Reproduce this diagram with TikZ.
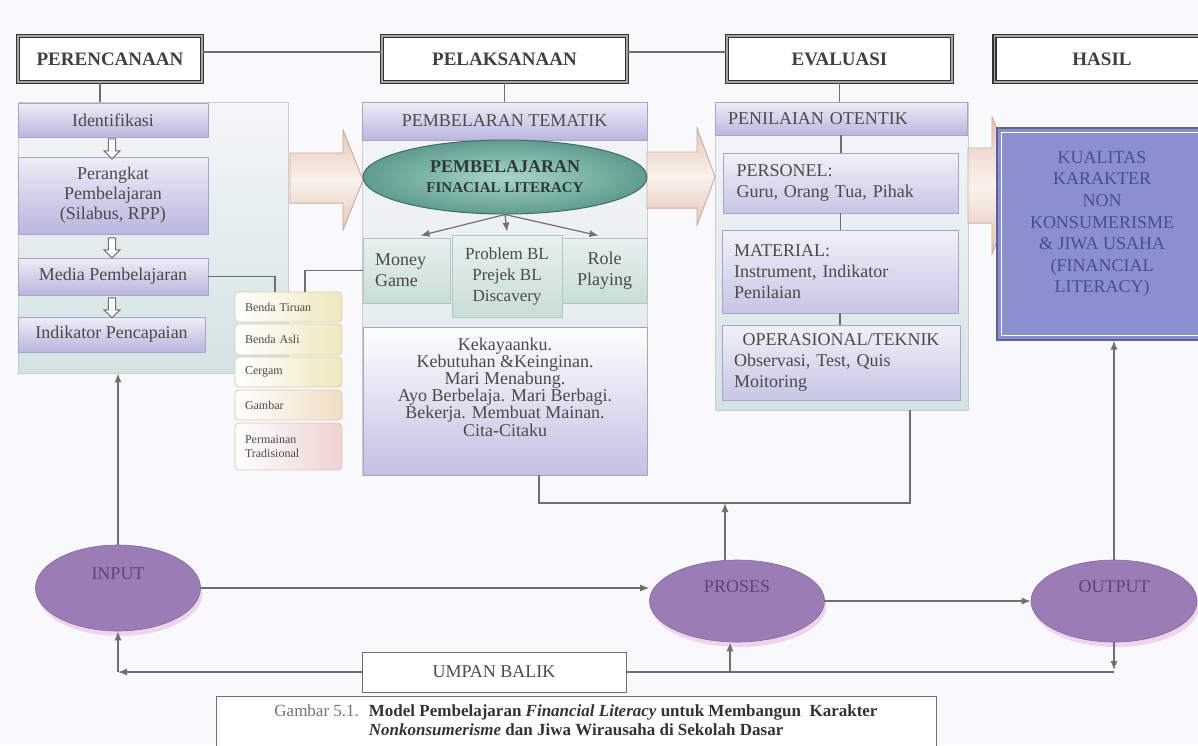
\documentclass[tikz,border=0pt]{standalone}
\usepackage{fontspec}
\setmainfont{Liberation Serif}
\usetikzlibrary{shapes.geometric,shapes.arrows,shadows,arrows.meta}

\definecolor{bgC}{HTML}{F9F9FC}
\definecolor{txt}{HTML}{4A4A4A}
\definecolor{edgeC}{HTML}{6F6F6F}
\definecolor{lavTop}{HTML}{EEEDF8}
\definecolor{lavBot}{HTML}{BAB6DE}
\definecolor{lavEdge}{HTML}{A7A3CC}
\definecolor{panTop}{HTML}{F4F6F8}
\definecolor{panBot}{HTML}{D3E3E3}
\definecolor{midTop}{HTML}{F5F5FA}
\definecolor{midBot}{HTML}{DCE8E6}
\definecolor{rTop}{HTML}{F1F1F9}
\definecolor{rBot}{HTML}{C8C5E4}
\definecolor{tealTop}{HTML}{E8F1EF}
\definecolor{tealBot}{HTML}{C9DDD7}
\definecolor{tealEdge}{HTML}{AFC7C1}
\definecolor{tealIn}{HTML}{AAD5CB}
\definecolor{tealOut}{HTML}{5E9C8F}
\definecolor{flTxt}{HTML}{2C3B38}
\definecolor{kBot}{HTML}{C3C0E2}
\definecolor{arrPink}{HTML}{E6C6B8}
\definecolor{arrLight}{HTML}{FAF2EC}
\definecolor{arrEdge}{HTML}{C8AC9E}
\definecolor{plum}{HTML}{9A7CB7}
\definecolor{rim}{HTML}{F0D4EE}
\definecolor{plumTxt}{HTML}{5F4479}
\definecolor{hasilFill}{HTML}{8A90CF}
\definecolor{hasilEdge}{HTML}{5C6199}
\definecolor{hasilTxt}{HTML}{474E8C}
\definecolor{yelR}{HTML}{F0E7BE}
\definecolor{peachR}{HTML}{F1DDC3}
\definecolor{pinkR}{HTML}{EFD2D2}
\definecolor{smallEdge}{HTML}{D5CDB5}

\begin{document}
\begin{tikzpicture}[x=0.5pt,y=-0.5pt,
	every node/.style={font=\fontsize{9}{10.5}\selectfont, text=txt},
	hdr/.style={draw=black!80, line width=0.8pt, double=black!35, double distance=0.6pt, fill=white, minimum height=23pt, font=\fontsize{9.5}{11}\selectfont\bfseries, text=black!75},
	panel/.style={draw=black!20, line width=0.4pt, inner sep=0pt},
	lav/.style={draw=lavEdge, line width=0.4pt, top color=lavTop, bottom color=lavBot, align=center, font=\fontsize{9}{10}\selectfont},
	hollow/.style={single arrow, shape border rotate=270, draw=edgeC, fill=white, line width=0.5pt, minimum height=10pt, minimum width=8pt, single arrow head extend=2pt, inner sep=1.5pt},
	smallbox/.style={draw=smallEdge, line width=0.4pt, rounded corners=2pt, text width=43.5pt, inner xsep=5pt, align=left, font=\fontsize{6}{7}\selectfont, left color=white},
	tealbx/.style={draw=tealEdge, line width=0.4pt, top color=tealTop, bottom color=tealBot, align=center},
	fat/.style={draw=arrEdge, line width=0.4pt, top color=arrPink, bottom color=arrPink, middle color=arrLight},
	rbox/.style={draw=lavEdge, line width=0.4pt, top color=rTop, bottom color=rBot, align=left},
	oval/.style={ellipse, fill=plum, draw=plum!85!black, line width=0.3pt, drop shadow={shadow xshift=1pt, shadow yshift=-2.5pt, fill=rim, opacity=1}, text=plumTxt, text depth=14pt},
	wire/.style={draw=edgeC, line width=0.6pt},
	pointer/.style={wire, -{Latex[length=4.5pt,width=3.5pt]}}
]
\useasboundingbox (0,0) rectangle (1198,745);
\fill[bgC] (0,0) rectangle (1198,745);

\node[hdr, minimum width=92pt] (perencanaan) at (110,59) {PERENCANAAN};
\node[hdr, minimum width=122.5pt] (pelaksanaan) at (504.5,59) {PELAKSANAAN};
\node[hdr, minimum width=112.5pt] (evaluasi) at (839.5,59) {EVALUASI};
\node[hdr, minimum width=107.5pt] (hasil) at (1102,59) {HASIL};
\draw[wire] ([yshift=3.5pt]perencanaan.east) -- ([yshift=3.5pt]pelaksanaan.west);
\draw[wire] ([yshift=3.5pt]pelaksanaan.east) -- ([yshift=3.5pt]evaluasi.west);

\node[panel, top color=panTop, bottom color=panBot, minimum width=135pt, minimum height=135.5pt] (leftpanel) at (153,237.5) {};
\node[panel, top color=midTop, bottom color=midBot, minimum width=142.5pt, minimum height=186.5pt] (midpanel) at (504.5,288.5) {};
\node[panel, top color=rTop!60!white, bottom color=panBot, minimum width=126.5pt, minimum height=154pt] (rightpanel) at (841.5,256) {};
\draw[wire] ([xshift=-5pt]perencanaan.south) -- ([xshift=-5pt]perencanaan.south |- leftpanel.north);
\draw[wire] (pelaksanaan.south) -- (pelaksanaan.south |- midpanel.north);
\draw[wire] (evaluasi.south) -- (evaluasi.south |- rightpanel.north);

\node[lav, minimum width=95pt, minimum height=17pt] (ident) at (113,120) {Identifikasi};
\node[lav, minimum width=95pt, minimum height=38.5pt] (perangkat) at (113,195.5) {Perangkat\\Pembelajaran\\(Silabus, RPP)};
\node[lav, minimum width=95pt, minimum height=18.5pt] (media) at (113,276.5) {Media Pembelajaran};
\node[lav, minimum width=93.5pt, minimum height=17.5pt] (indikator) at (111.5,334.5) {Indikator Pencapaian};
\node[hollow] (down1) at (112,147) {};
\node[hollow] (down2) at (112,246) {};
\node[hollow] (down3) at (112,306) {};

\node[smallbox, right color=yelR, minimum height=15pt] (tiruan) at (288.5,307) {Benda Tiruan};
\node[smallbox, right color=yelR, minimum height=15.5pt] (asli) at (288.5,339.5) {Benda Asli};
\node[smallbox, right color=yelR, minimum height=15pt] (cergam) at (288.5,372) {Cergam};
\node[smallbox, right color=peachR, minimum height=15pt] (gambar) at (288.5,405) {Gambar};
\node[smallbox, right color=pinkR, minimum height=23.5pt] (permainan) at (288.5,446.5) {Permainan\\Tradisional};

\filldraw[fat] (290,153) -- (343,153) -- (343,130) -- (363,180) -- (343,230) -- (343,203) -- (290,203) -- cycle;
\filldraw[fat] (647,152) -- (697,152) -- (697,128) -- (715,177) -- (697,225) -- (697,208) -- (647,208) -- cycle;
\filldraw[fat] (968,148) -- (992,148) -- (992,117) -- (1020,185) -- (992,254) -- (992,223) -- (968,223) -- cycle;

\node[lav, minimum width=142.5pt, minimum height=19pt] (tematik) at (504.5,121) {PEMBELARAN TEMATIK};
\node[ellipse, draw=tealOut!70!black, line width=0.5pt, inner color=tealIn, outer color=tealOut, align=center, font=\fontsize{9}{10}\selectfont\bfseries, text=flTxt, minimum width=142pt, minimum height=37pt, inner sep=0pt] (finlit) at (505,177) {PEMBELAJARAN\\{\fontsize{7.5}{9}\selectfont FINACIAL LITERACY}};
\node[tealbx, minimum width=43.5pt, minimum height=32.5pt, text width=31.5pt, inner xsep=6pt, align=left] (money) at (406.5,270.5) {Money\\Game};
\node[tealbx, minimum width=55pt, minimum height=41pt, font=\fontsize{8.5}{10.5}\selectfont] (problem) at (507,276) {Problem BL\\Prejek BL\\Discavery};
\node[tealbx, minimum width=42.5pt, minimum height=32.5pt] (role) at (604.5,270.5) {Role\\Playing};
\draw[pointer] (finlit.south) -- ([xshift=7pt,yshift=1pt]money.north);
\draw[pointer] (finlit.south) -- ([yshift=1.5pt]problem.north);
\draw[pointer] (finlit.south) -- ([xshift=-3pt,yshift=1pt]role.north);
\draw[wire] (media.east) -| ([xshift=-6.75pt]tiruan.north);
\draw[wire] ([xshift=8.25pt]tiruan.north) |- (money.west);
\node[draw=lavEdge, line width=0.4pt, top color=white, bottom color=kBot, minimum width=142pt, minimum height=74pt,
	label={[anchor=north, align=center, font=\fontsize{9}{8.6}\selectfont, yshift=-2pt]north:{Kekayaanku.\\Kebutuhan \&Keinginan.\\Mari Menabung.\\Ayo Berbelaja. Mari Berbagi.\\Bekerja. Membuat Mainan.\\Cita-Citaku}}] (kekayaan) at (505,401) {};

\node[lav, minimum width=126pt, minimum height=16.5pt, text width=113pt, inner xsep=6.5pt, align=left] (otentik) at (841,118.5) {PENILAIAN OTENTIK};
\node[rbox, minimum width=117.5pt, minimum height=30pt, text width=104pt, inner xsep=6.75pt] (personel) at (840.5,183) {PERSONEL:\\\makebox[104pt][s]{Guru, Orang Tua, Pihak}};
\node[rbox, minimum width=118pt, minimum height=41.5pt, text width=106pt, inner xsep=6pt] (material) at (840,271.5) {MATERIAL:\\\makebox[106pt][s]{Instrument, Indikator}\\Penilaian};
\node[rbox, minimum width=119pt, minimum height=37.5pt, text width=107pt, inner xsep=6pt] (operasional) at (841,362.5) {\makebox[107pt][c]{OPERASIONAL/TEKNIK}\\Observasi, Test, Quis\\Moitoring};
\draw[wire] (otentik.south) -- (otentik.south |- personel.north);
\draw[wire] (personel.south) -- (personel.south |- material.north);
\draw[wire] (material.south) -- (material.south |- operasional.north);

\node[draw=hasilEdge, line width=0.6pt, fill=hasilFill, minimum width=105pt, minimum height=106pt,
	label={[anchor=north, align=center, font=\fontsize{9}{10.8}\selectfont, text=hasilTxt, yshift=-8.5pt]north:{KUALITAS\\KARAKTER\\NON\\KONSUMERISME\\\& JIWA USAHA\\(FINANCIAL\\LITERACY)}}] (kualitas) at (1102,234) {};
\draw[white, line width=0.8pt] ([shift={(2.5pt,-2.5pt)}]kualitas.north west) rectangle ([shift={(-2.5pt,2.5pt)}]kualitas.south east);

\node[oval, minimum width=82.5pt, minimum height=43pt] (input) at (118,588) {INPUT};
\node[oval, minimum width=87.5pt, minimum height=41pt] (proses) at (737,601) {PROSES};
\node[oval, minimum width=83pt, minimum height=41pt] (output) at (1114,601) {OUTPUT};
\node[draw=edgeC, line width=0.5pt, fill=white, minimum width=132pt, minimum height=20pt] (umpan) at (494,672) {UMPAN BALIK};
\node[draw=edgeC, line width=0.5pt, fill=white, anchor=north, minimum width=360pt, inner ysep=3.5pt, font=\fontsize{8.5}{9.5}\selectfont] (caption) at (576,696)
	{\begin{tabular}{@{}l@{\hspace{5pt}}l@{}}
	\textcolor{black!55}{Gambar 5.1.} & \textcolor{black!80}{\textbf{Model Pembelajaran \textit{Financial Literacy} untuk Membangun\ \ Karakter}}\\
	& \textcolor{black!80}{\textbf{\textit{Nonkonsumerisme} dan Jiwa Wirausaha di Sekolah Dasar}}\\[10pt]
	\end{tabular}};

\draw[pointer] (input.north) -- (input.north |- leftpanel.south);
\coordinate (merge) at (725,503);
\draw[wire] ([xshift=17pt]kekayaan.south) |- (merge) -| ([xshift=34.25pt]rightpanel.south);
\draw[pointer] (proses.north -| merge) -- (merge);
\draw[pointer] (input.east) -- (input.east -| proses.west);
\draw[pointer] (proses.east) -- (output.west);
\draw[pointer] (output.north) -- (output.north |- kualitas.south);
\draw[pointer] (output.south) -- ([yshift=1pt]output.south |- umpan.east);
\draw[wire] (output.south |- umpan.east) -- (umpan.east);
\draw[pointer] (umpan.west) -- (input.south |- umpan.west);
\draw[pointer] (input.south |- umpan.west) -- (input.south);
\draw[pointer] ([xshift=-3.5pt]proses.south |- umpan.east) -- ([xshift=-3.5pt]proses.south);
\end{tikzpicture}
\end{document}
